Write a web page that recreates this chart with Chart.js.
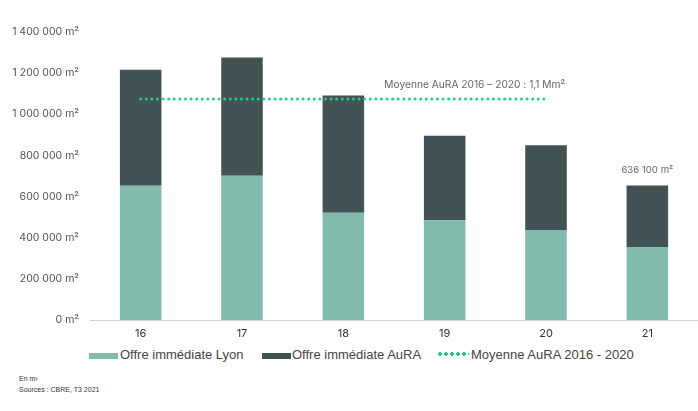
<!DOCTYPE html>
<html>
<head>
<meta charset="utf-8">
<script src="https://cdn.jsdelivr.net/npm/chart.js@4/dist/chart.umd.min.js"></script>
<style>
  body { margin: 0; background: #fff; }
  #wrap { position: relative; width: 698px; height: 411px; overflow: hidden; }
  #chart { position: absolute; left: 0; top: 0; }
  .legend { position: absolute; top: 347px; left: 0; font: 13px "Liberation Sans", Arial, sans-serif; color: #444; }
  .legend span { position: absolute; white-space: nowrap; top: 0; }
  .box { position: absolute; height: 6px; width: 29px; top: 6px; }
  .dots { position: absolute; top: 5px; width: 32px; height: 4px;
          background: radial-gradient(circle, #22c98a 1.6px, transparent 1.9px) 0 0 / 6px 4px repeat-x; }
  .note { position: absolute; left: 19px; font: 7px "Liberation Sans Narrow", "Liberation Sans", Arial, sans-serif; color: #333; }
</style>
</head>
<body>
<div id="wrap">
  <canvas id="chart" width="698" height="345"></canvas>
  <div class="legend">
    <div class="box" style="left:89px;background:#80bbad"></div>
    <span style="left:120px">Offre immédiate Lyon</span>
    <div class="box" style="left:262px;background:#435254"></div>
    <span style="left:292px">Offre immédiate AuRA</span>
    <div class="dots" style="left:437px"></div>
    <span style="left:471px">Moyenne AuRA 2016 - 2020</span>
  </div>
  <div class="note" style="top:375px">En m²</div>
  <div class="note" style="top:386px">Sources : CBRE, T3 2021</div>
</div>
<script>
// données
const years = ['16', '17', '18', '19', '20', '21'];
const lyon = [652000, 701000, 521000, 485000, 438000, 355000];
const aura = [565000, 575000, 570000, 411000, 412000, 299000];
const moyenne = [1074000, 1074000, 1074000, 1074000, 1074000, null];
const yTicks = [0, 200000, 400000, 600000, 800000, 1000000, 1200000, 1400000];
const avgLabel = 'Moyenne AuRA 2016 – 2020 : 1,1 Mm²';
const lastLabel = '636 100 m²';

const fmt = v => String(v).replace(/\B(?=(\d{3})+(?!\d))/g, ' ') + ' m²';

// textes ajoutés sur le graphique
const labelsPlugin = {
    id: 'labels',
    afterDatasetsDraw(chart) {
        const { ctx, scales: { x, y } } = chart;
        ctx.save();
        ctx.fillStyle = '#666';
        ctx.textBaseline = 'middle';
        ctx.font = '10.2px Inter, sans-serif';
        ctx.textAlign = 'right';
        ctx.fillText(avgLabel, x.getPixelForValue(4) + 19, y.getPixelForValue(moyenne[0]) - 14);
        const last = years.length - 1;
        ctx.font = '9.6px Inter, sans-serif';
        ctx.textAlign = 'center';
        ctx.fillText(lastLabel, x.getPixelForValue(last), y.getPixelForValue(lyon[last] + aura[last]) - 15);
        ctx.restore();
    }
};

const ctx = document.getElementById('chart').getContext('2d');
new Chart(ctx, {
    type: 'bar',
    data: {
        labels: years,
        datasets: [
            { label: 'Offre immédiate Lyon', data: lyon, backgroundColor: '#80bbad', stack: 'offre', order: 2 },
            { label: 'Offre immédiate AuRA', data: aura, backgroundColor: '#435254', stack: 'offre', order: 2 },
            {
                type: 'line', label: 'Moyenne AuRA 2016 - 2020', data: moyenne, stack: 'moy', order: 1,
                borderColor: '#1fd08c', borderWidth: 3, borderDash: [0, 5.6], borderCapStyle: 'round',
                pointRadius: 0, fill: false, spanGaps: false
            }
        ]
    },
    options: {
        responsive: false,
        animation: false,
        categoryPercentage: 1,
        barPercentage: 0.41,
        layout: { padding: { top: 32, left: 0, right: 0, bottom: 0 } },
        plugins: { legend: { display: false }, tooltip: { enabled: false } },
        scales: {
            x: {
                stacked: true,
                grid: { display: false, drawTicks: false },
                border: { display: true, color: '#cfcfcf', width: 1 },
                ticks: { color: '#333', font: { family: 'Inter', size: 11 }, padding: 7, maxRotation: 0 },
                afterFit(scale) { scale.height = 25; }
            },
            y: {
                stacked: true,
                min: 0,
                max: 1400000,
                grid: { display: false, drawTicks: false },
                border: { display: false },
                afterBuildTicks(scale) { scale.ticks = yTicks.map(v => ({ value: v })); },
                ticks: { color: '#555', font: { family: 'Inter', size: 10.5 }, padding: 11, callback: v => fmt(v) },
                afterFit(scale) { scale.width = 90; }
            }
        }
    },
    plugins: [labelsPlugin]
});
</script>
</body>
</html>
